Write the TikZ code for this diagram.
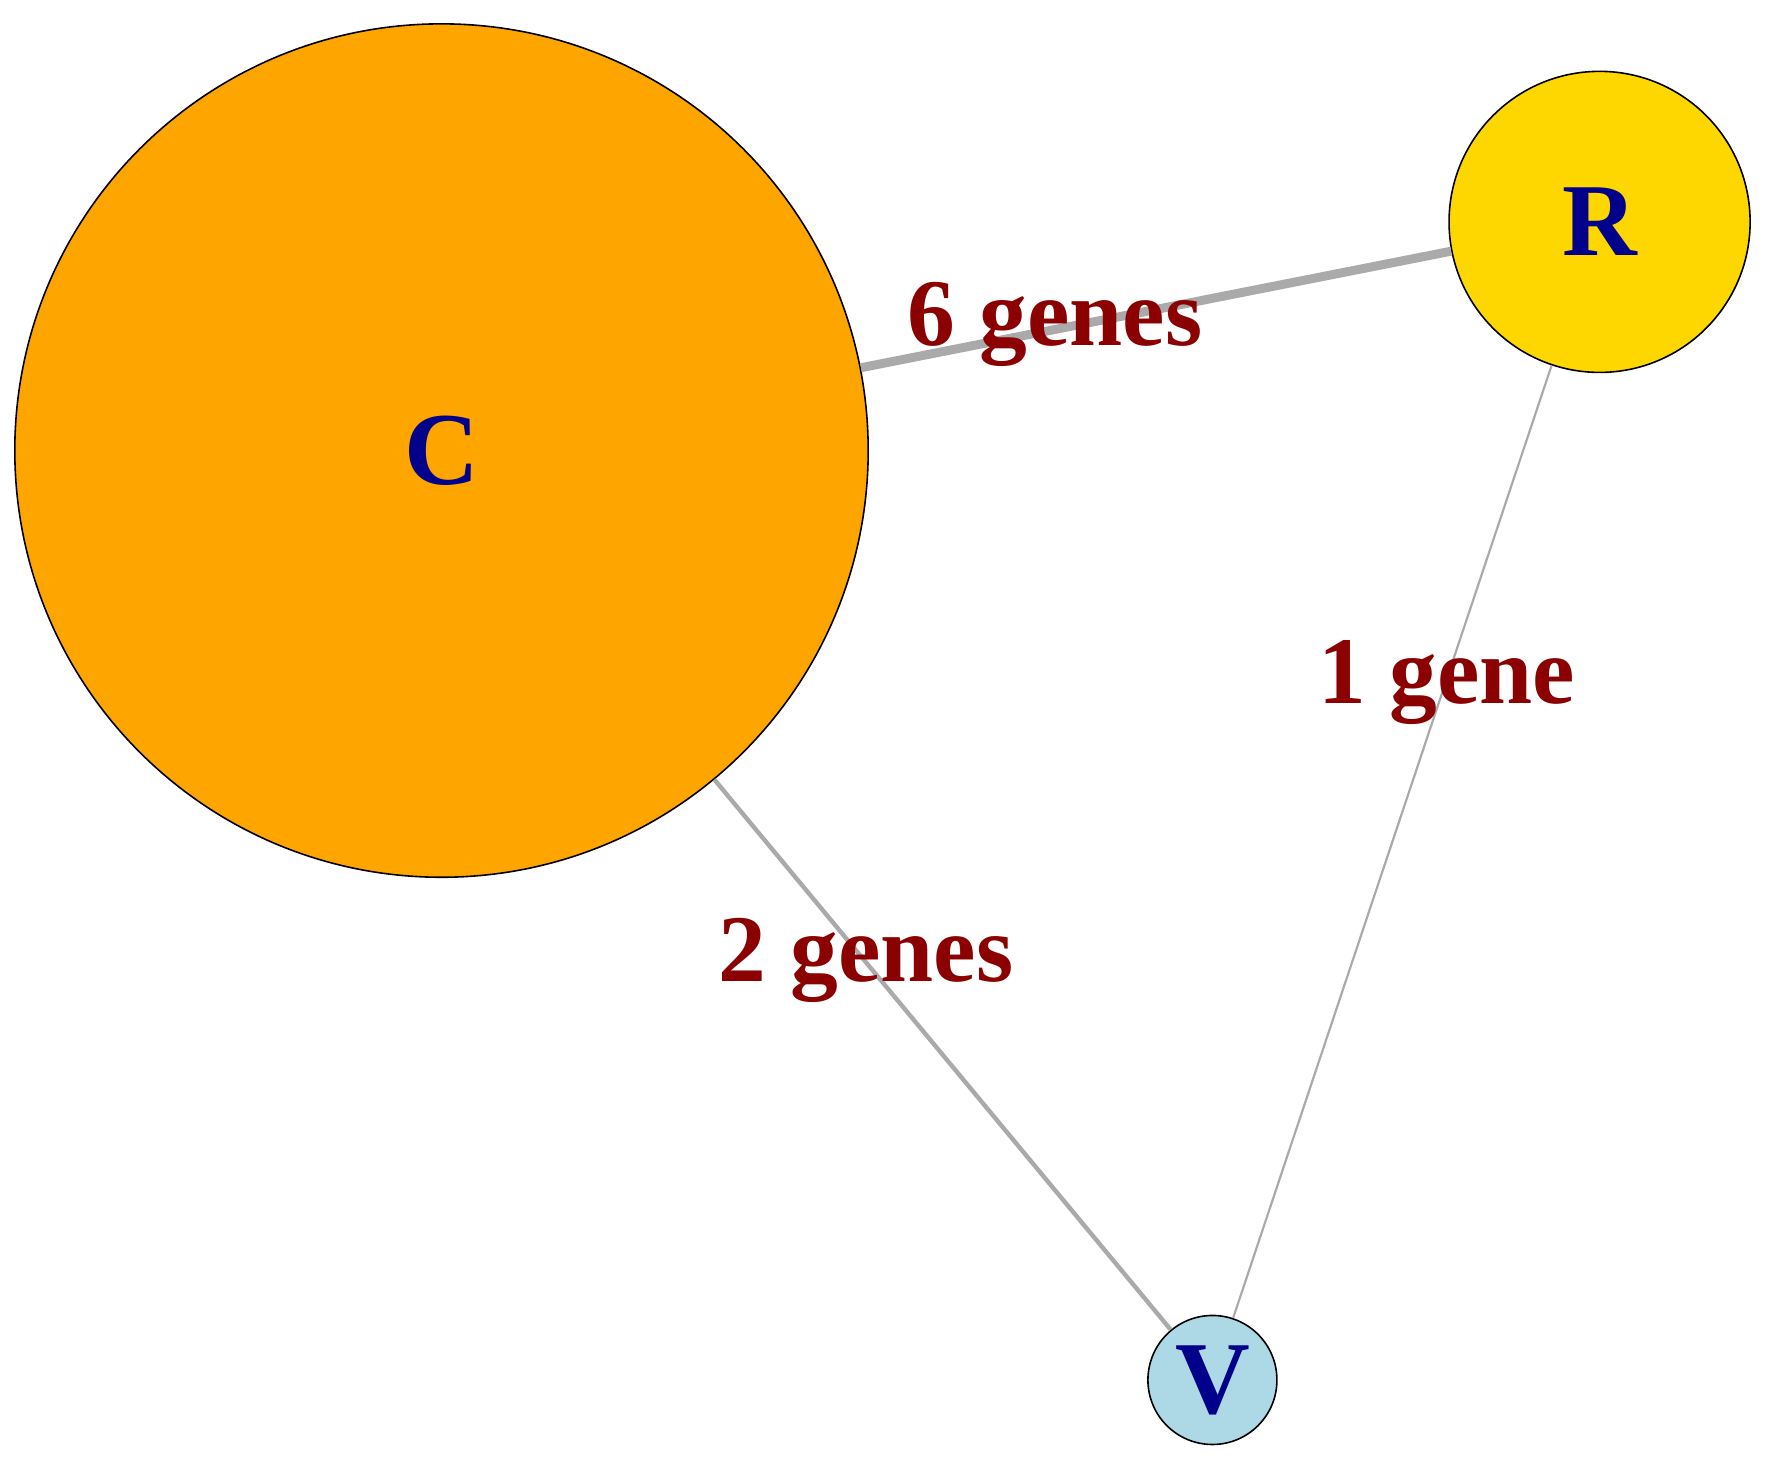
\documentclass[tikz,border=0pt]{standalone}
\usepackage{fontspec}
\setmainfont{Liberation Serif}
\definecolor{vname}{RGB}{0,0,139}
\definecolor{elab}{RGB}{139,0,0}
\definecolor{egray}{RGB}{170,170,170}
\definecolor{corange}{RGB}{255,165,0}
\definecolor{rgold}{RGB}{255,215,0}
\definecolor{vblue}{RGB}{173,216,230}
\tikzset{%
  vertex/.style = {draw, circle, thick, inner sep=0pt, text=vname,
    font=\fontsize{52}{60}\selectfont\bfseries}, % Vertex
  edge/.style   = {draw=egray}, % Edge
  elabel/.style = {text=elab, font=\fontsize{48}{56}\selectfont\bfseries}
}
\begin{document}
\begin{tikzpicture}[x=0.02cm, y=-0.02cm]
  \useasboundingbox (0,0) rectangle (1560,1288);

  \node at (390,398) [vertex, fill=corange, minimum size=15.08cm] (c) {C};
  \node at (1413,196) [vertex, fill=rgold, minimum size=5.32cm] (r) {R};
  \node at (1071,1219) [vertex, fill=vblue, minimum size=2.28cm] (v) {V};

  \begin{scope}[on background layer/.style={}]
  \end{scope}
  \draw[edge, line width=4.5pt] (c) -- (r);
  \draw[edge, line width=2.2pt] (c) -- (v);
  \draw[edge, line width=1.1pt] (r) -- (v);

  \node at (932,287) [elabel] (lcr) {6 genes};
  \node at (765,848) [elabel] (lcv) {2 genes};
  \node at (1278,603) [elabel] (lrv) {1 gene};

\end{tikzpicture}
\end{document}
